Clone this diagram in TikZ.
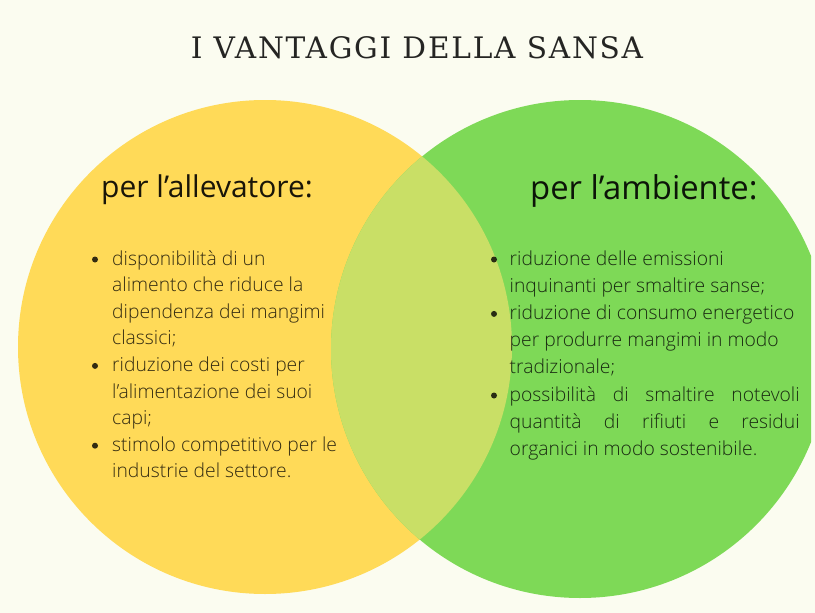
\documentclass[tikz,border=0pt]{standalone}
\usepackage{fontspec}
\setmainfont{Open Sans}
\newfontfamily\bodyfont{Open Sans Light}
\newfontfamily\titlefont[LetterSpace=6]{DejaVu Serif}
\definecolor{bg}{HTML}{FBFCF0}
\definecolor{yel}{HTML}{FFDA58}
\definecolor{grn}{HTML}{7ED957}
\definecolor{mix}{HTML}{C9DF66}
\tikzset{
  bodytxt/.style={anchor=base west, inner sep=0pt, text=black, text opacity=0.8, font=\bodyfont\fontsize{19.3}{22}\selectfont},
  headtxt/.style={anchor=base west, inner sep=0pt, text=black, text opacity=0.9},
  bulletdot/.style={circle, fill=black, fill opacity=0.8, inner sep=0pt, minimum size=6pt},
}
\begin{document}
\begin{tikzpicture}[x=1pt,y=-1pt]
\fill[bg] (0,0) rectangle (815,613);
\path[use as bounding box] (0,0) rectangle (815,613);
\begin{scope}
  \clip (0,0) rectangle (811,613);
  \fill[yel] (265,347) circle[radius=247pt];
  \fill[grn] (580,349) circle[radius=249pt];
  \begin{scope}
    \clip (265,347) circle[radius=247pt];
    \fill[mix] (580,349) circle[radius=249pt];
  \end{scope}
\end{scope}

\node[anchor=base, inner sep=0pt, text=black, text opacity=0.85] (title) at (417,58.6)
  {\titlefont\fontsize{29.6}{30}\selectfont I VANTAGGI DELLA SANSA};

\node[headtxt, font=\fontsize{30}{36}\selectfont] (h1) at (101,197.5) {per l’allevatore:};
\node[headtxt, font=\fontsize{32.8}{38}\selectfont] (h2) at (530,199.5) {per l’ambiente:};

% left column
\node[bodytxt] (l1) at (112,265.0) {disponibilità di un};
\node[bodytxt] (l2) at (112,291.6) {alimento che riduce la};
\node[bodytxt] (l3) at (112,318.2) {dipendenza dei mangimi};
\node[bodytxt] (l4) at (112,344.8) {classici;};
\node[bodytxt] (l5) at (112,371.4) {riduzione dei costi per};
\node[bodytxt] (l6) at (112,398.0) {l’alimentazione dei suoi};
\node[bodytxt] (l7) at (112,424.6) {capi;};
\node[bodytxt] (l8) at (112,451.2) {stimolo competitivo per le};
\node[bodytxt] (l9) at (112,477.8) {industrie del settore.};
\node[bulletdot] (lb1) at (95,259.5) {};
\node[bulletdot] (lb2) at (95,365.9) {};
\node[bulletdot] (lb3) at (95,445.7) {};

% right column
\node[bodytxt] (r1) at (509.5,265.0) {riduzione delle emissioni};
\node[bodytxt] (r2) at (509.5,292.2) {inquinanti per smaltire sanse;};
\node[bodytxt] (r3) at (509.5,319.4) {riduzione di consumo energetico};
\node[bodytxt] (r4) at (509.5,346.6) {per produrre mangimi in modo};
\node[bodytxt] (r5) at (509.5,373.8) {tradizionale;};
\node[bodytxt] (r6) at (509.5,401.0) {\makebox[290pt][s]{possibilità di smaltire notevoli}};
\node[bodytxt] (r7) at (509.5,428.2) {\makebox[290pt][s]{quantità di rifiuti e residui}};
\node[bodytxt] (r8) at (509.5,455.4) {organici in modo sostenibile.};
\node[bulletdot] (rb1) at (494,259.5) {};
\node[bulletdot] (rb2) at (494,313.9) {};
\node[bulletdot] (rb3) at (494,395.5) {};
\end{tikzpicture}
\end{document}
